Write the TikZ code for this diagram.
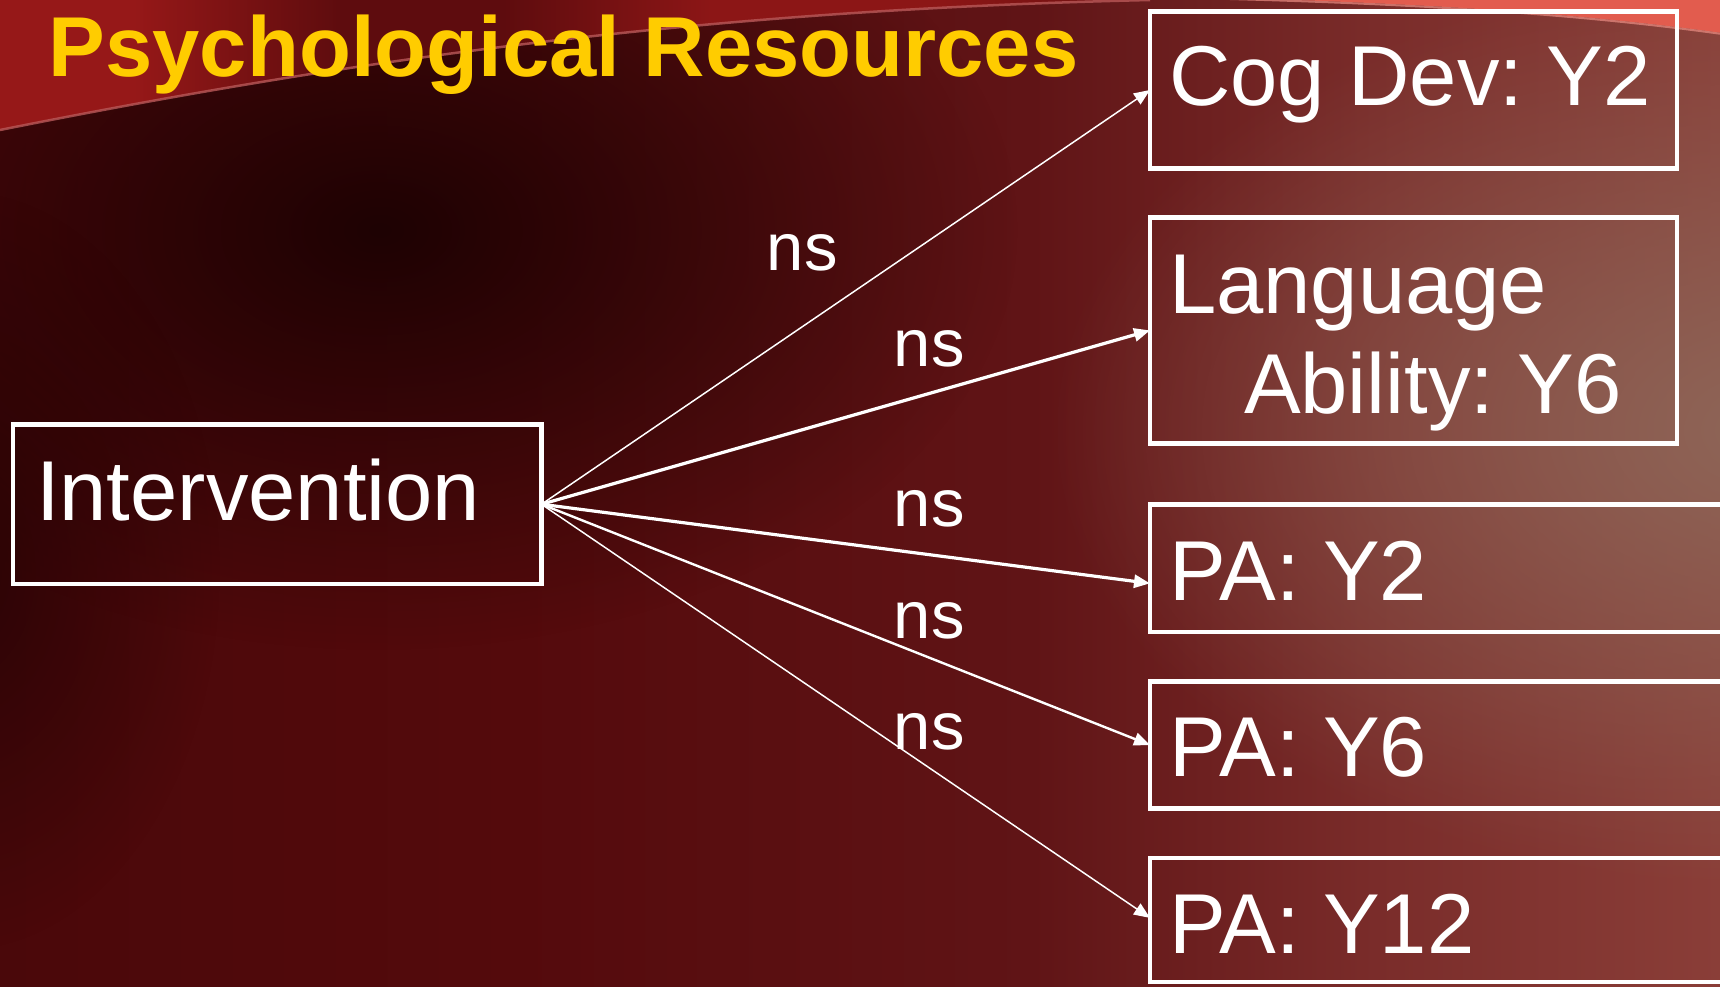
\documentclass[tikz,border=0pt]{standalone}
\usepackage{fontspec}
\setmainfont{Liberation Sans}
\usetikzlibrary{arrows.meta,fadings}

\definecolor{ttl}{HTML}{FFCC00}
\definecolor{bgA}{HTML}{4A080A}
\definecolor{bgB}{HTML}{540A0C}
\definecolor{bgC}{HTML}{601416}
\definecolor{bgD}{HTML}{7A2C2A}
\definecolor{bgE}{HTML}{8A3E38}
\definecolor{bgdark}{HTML}{1E0203}
\definecolor{bgbrown}{HTML}{8E6658}
\definecolor{bandA}{HTML}{961818}
\definecolor{bandB}{HTML}{5E0C0E}
\definecolor{bandC}{HTML}{8C1616}
\definecolor{bandD}{HTML}{6A1010}
\definecolor{salmon}{HTML}{E25C4E}
\definecolor{curveline}{HTML}{B85858}

\pgfdeclarehorizontalshading{bgshade}{100bp}{color(0bp)=(bgA); color(25bp)=(bgA); color(40bp)=(bgB); color(55bp)=(bgC); color(65bp)=(bgD); color(75bp)=(bgE); color(100bp)=(bgE)}
\pgfdeclarehorizontalshading{bandshade}{100bp}{color(0bp)=(bandA); color(25bp)=(bandA); color(31bp)=(bandA); color(40bp)=(bandB); color(47bp)=(bandB); color(56bp)=(bandC); color(66bp)=(bandC); color(75bp)=(bandD); color(100bp)=(bandD)}
\tikzfading[name=softblob, inner color=transparent!0, outer color=transparent!100]

% width, height above baseline, depth below baseline, content
\newcommand{\bxc}[4]{\makebox[#1][l]{\rule[-#3]{0pt}{\dimexpr#2+#3\relax}\hspace{19pt}#4}}
\frenchspacing

\begin{document}
\begin{tikzpicture}[x=1pt,y=-1pt,
  bx/.style={draw=white, line width=4.5pt, inner sep=0pt, outer sep=0pt, anchor=north west, text=white, font=\fontsize{85}{100}\selectfont},
  lbl/.style={anchor=base west, inner sep=0pt, text=white, font=\fontsize{67}{80}\selectfont},
  arr/.style={draw=white, -{Triangle[length=16pt,width=13pt]}},
  thinarr/.style={arr, line width=1.5pt},
  thickarr/.style={arr, line width=3.2pt},
  midarr/.style={arr, line width=2.4pt}]

\useasboundingbox (0,0) rectangle (1720,986);

% background
\shade[shading=bgshade] (0,0) rectangle (1720,986);
\fill[bgdark, path fading=softblob] (380,230) ellipse [x radius=640, y radius=420];
\fill[bgdark, path fading=softblob, opacity=0.7] (-40,570) ellipse [x radius=260, y radius=380];
\fill[bgbrown, path fading=softblob] (1770,430) ellipse [x radius=720, y radius=460];
\shade[shading=bandshade] (-5,-5) -- (-5,131) -- (0,130) .. controls (350,60) and (700,10) .. (1150,0) -- (1150,-5) -- cycle;
\draw[curveline, line width=2.5pt, opacity=0.8] (0,130) .. controls (350,60) and (700,10) .. (1150,0);
\fill[salmon] (1230,-2) .. controls (1450,4) and (1600,16) .. (1722,33) -- (1722,-2) -- cycle;
\draw[salmon!70!white, line width=2pt, opacity=0.7] (1230,-1) .. controls (1450,5) and (1600,17) .. (1722,34);

% title
\node[anchor=base west, inner sep=0pt, text=ttl, font=\fontsize{85}{100}\selectfont\bfseries] (title) at (48.5,76) {Psychological Resources};

% boxes
\node[bx] (int) at (13,424.7) {\bxc{528.5pt}{96pt}{63.1pt}{\hspace{4pt}Intervention}};
\node[bx] (cog) at (1150,11.7) {\bxc{527pt}{93.3pt}{63.3pt}{Cog Dev: Y2}};
\node[bx] (lang) at (1150,217.5) {\bxc{527pt}{95.8pt}{128pt}{\begin{tabular}[t]{@{}l@{}}Language\\\hspace{75pt}Ability: Y6\end{tabular}}};
\node[bx] (pa2) at (1150,504.7) {\bxc{700pt}{96pt}{31.3pt}{PA: Y2}};
\node[bx] (pa6) at (1150,681.3) {\bxc{700pt}{95.4pt}{32pt}{PA: Y6}};
\node[bx] (pa12) at (1150,857.8) {\bxc{700pt}{95.5pt}{28.7pt}{PA: Y12}};

% connectors
\draw[thinarr] (int.east) -- (cog.west);
\draw[thickarr] (int.east) -- (lang.west);
\draw[thickarr] (int.east) -- ([yshift=-15pt]pa2.west);
\draw[midarr] (int.east) -- (pa6.west);
\draw[thinarr] (int.east) -- ([yshift=2pt]pa12.west);

% labels
\node[lbl] (ns1) at (766.6,270.5) {ns};
\node[lbl] (ns2) at (893.6,366.2) {ns};
\node[lbl] (ns3) at (893.6,526.3) {ns};
\node[lbl] (ns4) at (893.6,638.1) {ns};
\node[lbl] (ns5) at (893.6,749.1) {ns};
\end{tikzpicture}
\end{document}
